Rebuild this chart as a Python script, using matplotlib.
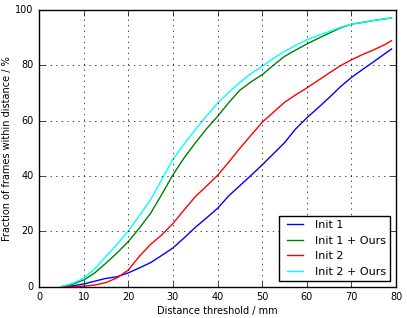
import matplotlib
matplotlib.use('Agg')
import matplotlib.pyplot as plt

# distance threshold (mm)
dist = [5, 7.5, 10, 12.5, 15, 17.5, 20, 22.5, 25, 27.5, 30, 32.5, 35, 37.5, 40,
        42.5, 45, 47.5, 50, 52.5, 55, 57.5, 60, 62.5, 65, 67.5, 70, 72.5, 75, 77.5, 79]

# fraction of frames within distance (%)
init1 = [0, 0.3, 1.0, 2.0, 3.0, 3.6, 5.0, 6.8, 8.7, 11.3, 14.0, 17.6, 21.4, 24.8, 28.3,
         32.8, 36.5, 40.2, 44.0, 48.0, 52.0, 57.0, 61.0, 64.6, 68.3, 72.2, 75.6, 78.5, 81.3, 84.2, 85.9]
init1_ours = [0, 0.9, 2.4, 5.0, 8.5, 12.2, 16.3, 21.2, 26.5, 33.3, 40.4, 46.5, 51.9, 57.0, 61.5,
              66.5, 71.0, 74.0, 76.6, 80.0, 83.2, 85.5, 87.7, 89.7, 91.6, 93.5, 94.9, 95.5, 96.2, 96.8, 97.1]
init2 = [0, 0, 0.2, 0.6, 1.5, 3.2, 6.0, 11.0, 15.3, 18.7, 22.8, 27.7, 32.5, 36.3, 40.2,
         45.0, 50.0, 54.7, 59.4, 63.0, 66.6, 69.3, 71.8, 74.5, 77.2, 79.8, 82.0, 83.9, 85.6, 87.5, 88.9]
init2_ours = [0, 1.2, 3.0, 6.5, 10.9, 15.3, 20.1, 25.7, 31.4, 38.7, 46.0, 51.5, 56.7, 61.6, 66.3,
              70.2, 73.8, 77.0, 79.6, 82.5, 85.0, 87.2, 89.2, 90.8, 92.2, 93.7, 94.9, 95.5, 96.2, 96.8, 97.1]

plt.style.use('classic')
plt.rcParams['font.family'] = ['DejaVu Sans']

fig = plt.figure(figsize=(4.07, 3.18), dpi=100, facecolor='white')
ax = fig.add_axes([0.0958, 0.0984, 0.8772, 0.8702])

ax.plot(dist, init1, color='b', lw=1, label='Init 1')
ax.plot(dist, init1_ours, color='g', lw=1, label='Init 1 + Ours')
ax.plot(dist, init2, color='r', lw=1, label='Init 2')
ax.plot(dist, init2_ours, color='cyan', lw=1, label='Init 2 + Ours')

ax.set_xlim(0, 80)
ax.set_ylim(0, 100)
ax.set_xticks(range(0, 81, 10))
ax.set_yticks(range(0, 101, 20))
ax.tick_params(labelsize=7)
ax.grid(True)
ax.set_xlabel('Distance threshold / mm', fontsize=7, labelpad=3)
ax.set_ylabel('Fraction of frames within distance / %', fontsize=7, labelpad=2)
ax.legend(loc='lower right', fontsize=8)

fig.savefig('out.png', dpi=100, facecolor='white')
